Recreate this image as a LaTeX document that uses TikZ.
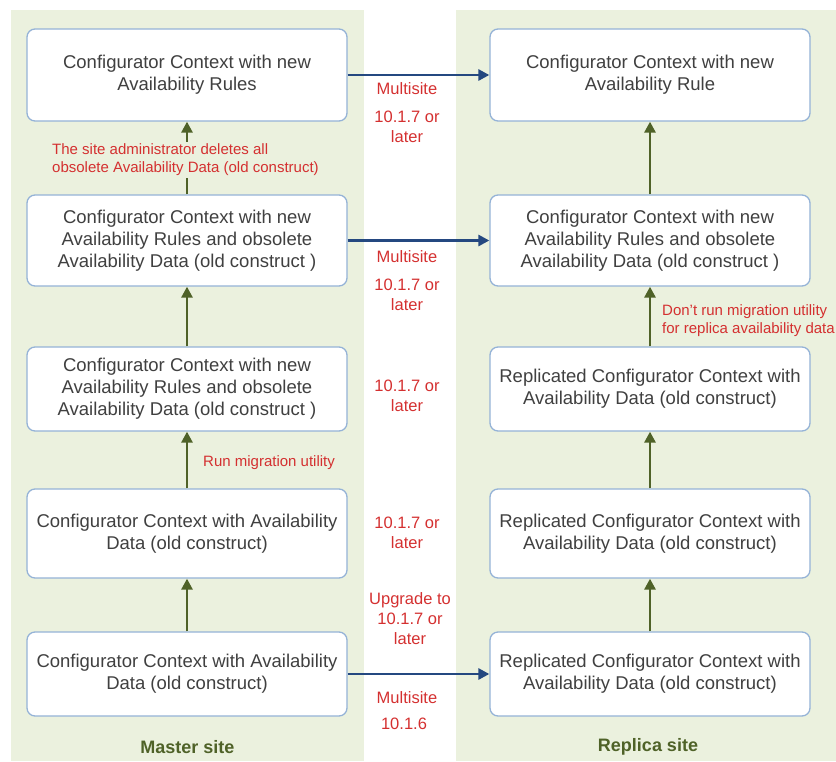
\documentclass[tikz,border=0pt]{standalone}
\usepackage{fontspec}
\setmainfont{Liberation Sans}
\usetikzlibrary{arrows.meta}

\definecolor{panelgreen}{RGB}{235,241,222}
\definecolor{boxblue}{RGB}{149,179,215}
\definecolor{boxtext}{RGB}{64,64,64}
\definecolor{notered}{RGB}{212,48,48}
\definecolor{stepgreen}{RGB}{79,98,40}
\definecolor{flowblue}{RGB}{36,72,128}

\begin{document}
\begin{tikzpicture}[x=1pt,y=-1pt,
  ctxbox/.style={draw=boxblue, line width=1.3pt, rounded corners=8pt, fill=white,
    minimum width=320pt, align=center, text=boxtext, inner sep=0pt,
    font=\fontsize{18.5}{22}\selectfont},
  midnote/.style={text=notered, align=center, inner sep=0pt,
    font=\fontsize{16.5}{20}\selectfont},
  sidenote/.style={text=notered, align=left, inner sep=0pt, anchor=west,
    font=\fontsize{15}{18}\selectfont},
  sitelabel/.style={text=stepgreen, inner sep=0pt,
    font=\fontsize{18}{22}\selectfont\bfseries},
  syncflow/.style={draw=flowblue, line width=2.8pt, -{Triangle[length=11pt,width=11pt]}},
  stepflow/.style={draw=stepgreen, line width=2.8pt, -{Triangle[length=11pt,width=11pt]}}
]
\useasboundingbox (0,0) rectangle (836,761);

% site panels
\fill[panelgreen] (11,10) rectangle (364,761);
\fill[panelgreen] (456,10) rectangle (836,761);

% master site column
\node[ctxbox, minimum height=92pt] (m1) at (187,75)
  {Configurator Context with new\\Availability Rules};
\node[ctxbox, minimum height=91pt] (m2) at (187,240.5)
  {Configurator Context with new\\Availability Rules and obsolete\\Availability Data (old construct )};
\node[ctxbox, minimum height=84pt] (m3) at (187,389)
  {Configurator Context with new\\Availability Rules and obsolete\\Availability Data (old construct )};
\node[ctxbox, minimum height=89pt] (m4) at (187,533.5)
  {Configurator Context with Availability\\Data (old construct)};
\node[ctxbox, minimum height=84pt] (m5) at (187,674)
  {Configurator Context with Availability\\Data (old construct)};

% replica site column
\node[ctxbox, minimum height=92pt] (r1) at (650,75)
  {Configurator Context with new\\Availability Rule};
\node[ctxbox, minimum height=91pt] (r2) at (650,240.5)
  {Configurator Context with new\\Availability Rules and obsolete\\Availability Data (old construct )};
\node[ctxbox, minimum height=84pt] (r3) at (650,389)
  {Replicated Configurator Context with\\Availability Data (old construct)};
\node[ctxbox, minimum height=89pt] (r4) at (650,533.5)
  {Replicated Configurator Context with\\Availability Data (old construct)};
\node[ctxbox, minimum height=84pt] (r5) at (650,674)
  {Replicated Configurator Context with\\Availability Data (old construct)};

% multisite replication
\draw[syncflow] (m1) -- (r1);
\draw[syncflow] (m2) -- (r2);
\draw[syncflow] (m5) -- (r5);

% upgrade steps
\draw[stepflow] (m2) -- (m1);
\draw[stepflow] (m3) -- (m2);
\draw[stepflow] (m4) -- (m3);
\draw[stepflow] (m5) -- (m4);
\draw[stepflow] (r2) -- (r1);
\draw[stepflow] (r3) -- (r2);
\draw[stepflow] (r4) -- (r3);
\draw[stepflow] (r5) -- (r4);

% step notes
\node[sidenote, fill=panelgreen, inner sep=2pt] (delnote) at (50,160)
  {The site administrator deletes all\\obsolete Availability Data (old construct)};
\node[sidenote] (runnote) at (203,463) {Run migration utility};
\node[sidenote] (skipnote) at (662,320.5)
  {Don't run migration utility\\for replica availability data};

% version notes
\node[midnote] (ms1) at (407,89) {Multisite};
\node[midnote] (v1) at (407,127) {10.1.7 or\\later};
\node[midnote] (ms2) at (407,257) {Multisite};
\node[midnote] (v2) at (407,295) {10.1.7 or\\later};
\node[midnote] (v3) at (407,396) {10.1.7 or\\later};
\node[midnote] (v4) at (407,533) {10.1.7 or\\later};
\node[midnote] (up) at (410,619) {Upgrade to\\10.1.7 or\\later};
\node[midnote] (ms5) at (407,698) {Multisite};
\node[midnote] (v5) at (404,724) {10.1.6};

% site names
\node[sitelabel] (master) at (187.5,747) {Master site};
\node[sitelabel] (replica) at (648,747) {Replica site};
\end{tikzpicture}
\end{document}
